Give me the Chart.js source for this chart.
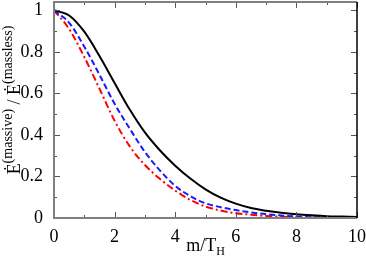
<!DOCTYPE html>
<html>
<head>
  <title>Massive / massless emission ratio</title>
  <script src="https://cdn.jsdelivr.net/npm/chart.js"></script>
  <style>
    body { margin: 0; background: #fff; }
    #wrap { width: 366px; height: 257px; }
  </style>
</head>
<body>
  <div id="wrap"><canvas id="ratioChart" width="366" height="257"></canvas></div>

  <script>
    // values
    const mValues = [0, 0.5, 1, 1.5, 2, 2.5, 3, 3.5, 4, 4.5, 5, 5.5, 6, 6.5, 7, 7.5, 8, 8.5, 9, 9.5, 10];
    const solidBlack = [1.0, 0.975, 0.897, 0.78, 0.65, 0.522, 0.412, 0.325, 0.252, 0.19, 0.138, 0.098, 0.069, 0.048, 0.035, 0.025, 0.018, 0.013, 0.009, 0.007, 0.005];
    const dashedBlue = [1.0, 0.94, 0.825, 0.69, 0.55, 0.43, 0.318, 0.228, 0.155, 0.105, 0.071, 0.052, 0.038, 0.027, 0.018, 0.012, 0.007, 0.004, 0.003, 0.002, 0.001];
    const dashDotRed = [1.0, 0.91, 0.775, 0.623, 0.468, 0.345, 0.255, 0.188, 0.132, 0.087, 0.055, 0.036, 0.023, 0.016, 0.01, 0.006, 0.004, 0.002, 0.001, 0.0005, 0];
    const xTicks = [0, 2, 4, 6, 8, 10];
    const xMinor = [1, 3, 5, 7, 9];
    const yTicks = [0, 0.2, 0.4, 0.6, 0.8, 1];
    const yMinor = [0.1, 0.3, 0.5, 0.7, 0.9];

    const serif = "'Liberation Serif', 'Times New Roman', serif";

    function pts(ys) {
      return mValues.map((m, i) => ({ x: m, y: ys[i] }));
    }

    // frame, inward ticks and the two axis titles
    const decor = {
      id: 'decor',
      afterDraw(chart) {
        const ctx = chart.ctx;
        const a = chart.chartArea;
        const xs = chart.scales.x, ys = chart.scales.y;
        ctx.save();

        // ticks
        ctx.strokeStyle = '#555';
        ctx.lineWidth = 1;
        const tick = (v, len, horiz) => {
          if (horiz) {
            const p = Math.round(xs.getPixelForValue(v)) + 0.5;
            ctx.beginPath();
            ctx.moveTo(p, a.bottom); ctx.lineTo(p, a.bottom - len);
            ctx.moveTo(p, a.top); ctx.lineTo(p, a.top + len);
            ctx.stroke();
          } else {
            const p = Math.round(ys.getPixelForValue(v)) + 0.5;
            ctx.beginPath();
            ctx.moveTo(a.left, p); ctx.lineTo(a.left + len, p);
            ctx.moveTo(a.right, p); ctx.lineTo(a.right - len, p);
            ctx.stroke();
          }
        };
        xTicks.forEach(v => tick(v, 6, true));
        xMinor.forEach(v => tick(v, 3, true));
        yTicks.forEach(v => tick(v, 6, false));
        yMinor.forEach(v => tick(v, 3, false));

        // frame
        ctx.lineWidth = 2;
        ctx.strokeStyle = '#808080';
        ctx.beginPath();
        ctx.moveTo(a.right, a.top); ctx.lineTo(a.left, a.top);
        ctx.lineTo(a.left, a.bottom); ctx.lineTo(a.right, a.bottom);
        ctx.stroke();
        ctx.lineWidth = 1.5;
        ctx.strokeStyle = '#000';
        ctx.beginPath();
        ctx.moveTo(a.right, a.top); ctx.lineTo(a.right, a.bottom);
        ctx.stroke();

        // x title: m/T with subscript H
        ctx.fillStyle = '#000';
        ctx.textBaseline = 'alphabetic';
        const big = '18px ' + serif, small = '12px ' + serif;
        ctx.font = big;
        const w1 = ctx.measureText('m/T').width;
        ctx.font = small;
        const w2 = ctx.measureText('H').width;
        let x0 = (a.left + a.right) / 2 - (w1 + w2) / 2;
        ctx.font = big;
        ctx.fillText('m/T', x0, 251);
        ctx.font = small;
        ctx.fillText('H', x0 + w1, 255);

        // y title, rotated
        const sup = '14px ' + serif;
        const parts = [
          ['\u0116', big, 0], ['(massive)', sup, -8], [' / ', big, 0],
          ['\u0116', big, 0], ['(massless)', sup, -8]
        ];
        let total = 0;
        parts.forEach(p => { ctx.font = p[1]; total += ctx.measureText(p[0]).width; });
        ctx.translate(20, 100);
        ctx.rotate(-Math.PI / 2);
        let cx = -total / 2;
        parts.forEach(p => {
          ctx.font = p[1];
          ctx.fillText(p[0], cx, p[2]);
          cx += ctx.measureText(p[0]).width;
        });
        ctx.restore();
      }
    };

    const ctx = document.getElementById('ratioChart').getContext('2d');
    new Chart(ctx, {
      type: 'line',
      data: {
        datasets: [
          { data: pts(solidBlack), borderColor: '#000', borderWidth: 2 },
          { data: pts(dashedBlue), borderColor: '#1a1aff', borderWidth: 2, borderDash: [6, 3] },
          { data: pts(dashDotRed), borderColor: '#ff0000', borderWidth: 2, borderDash: [7, 3, 2, 3] }
        ]
      },
      options: {
        responsive: false,
        animation: false,
        events: [],
        layout: { padding: { left: 0, right: 9, top: 2, bottom: 0 } },
        elements: {
          point: { radius: 0 },
          line: { cubicInterpolationMode: 'monotone', fill: false }
        },
        plugins: { legend: { display: false }, tooltip: { enabled: false } },
        scales: {
          x: {
            type: 'linear',
            min: 0, max: 10,
            afterFit(s) { s.height = 39; s.paddingLeft = 0; s.paddingRight = 0; },
            afterBuildTicks(s) { s.ticks = xTicks.map(v => ({ value: v })); },
            grid: { display: false },
            border: { display: false },
            ticks: { color: '#000', font: { family: serif, size: 18 }, padding: 0, maxRotation: 0, callback: v => String(v) }
          },
          y: {
            min: 0, max: 1.04,
            afterFit(s) { s.width = 54; s.paddingTop = 0; s.paddingBottom = 0; },
            afterBuildTicks(s) { s.ticks = yTicks.map(v => ({ value: v })); },
            grid: { display: false },
            border: { display: false },
            ticks: { color: '#000', font: { family: serif, size: 18 }, padding: 3, callback: v => String(v) }
          }
        }
      },
      plugins: [decor]
    });
  </script>
</body>
</html>
